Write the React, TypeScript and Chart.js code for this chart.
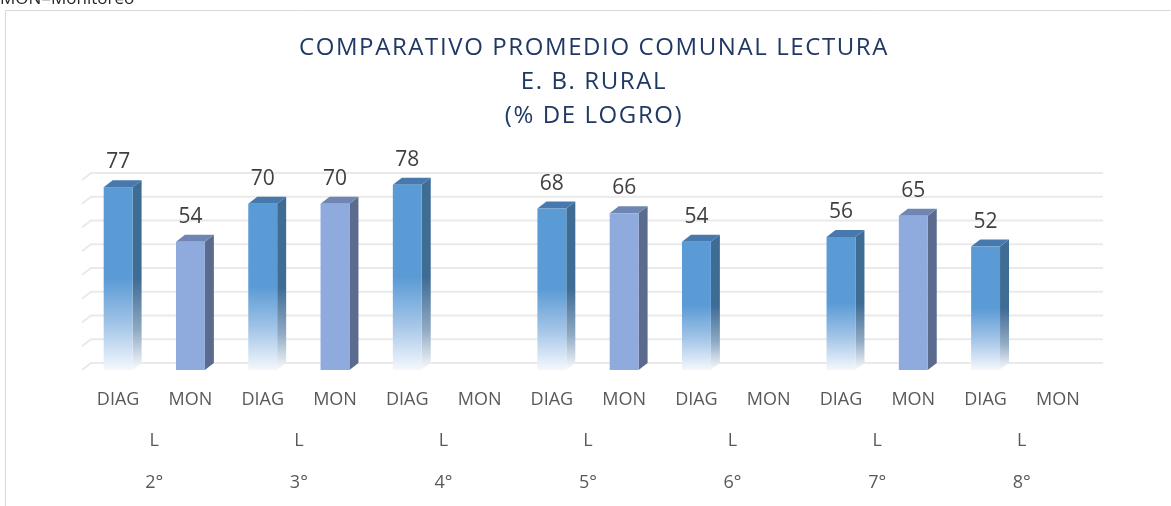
import React, { useEffect, useRef } from "react";
import { Chart, registerables } from "chart.js";

Chart.register(...registerables);

// ---- Data ----
const seriesLabels = ["DIAG", "MON"];
const levelLabels = ["L", "L", "L", "L", "L", "L", "L"];
const grades = ["2°", "3°", "4°", "5°", "6°", "7°", "8°"];
const diagValues: (number | null)[] = [77, 70, 78, 68, 54, 56, 52];
const monValues: (number | null)[] = [54, 70, null, 66, null, 65, null];
const yTicks = [0, 10, 20, 30, 40, 50, 60, 70, 80];
const titleLines = ["COMPARATIVO PROMEDIO COMUNAL LECTURA", "E. B. RURAL", "(% DE LOGRO)"];
const footNote = "MON=Monitoreo";

// Interleave into 14 categories
const categories: string[] = [];
const values: (number | null)[] = [];
grades.forEach((_, i) => {
  categories.push(seriesLabels[0]);
  values.push(diagValues[i]);
  categories.push(seriesLabels[1]);
  values.push(monValues[i]);
});

const FONT = "'Open Sans', 'Noto Sans', sans-serif";
const DX = 9;
const DY = 7;

const threeDPlugin = {
  id: "threeD",
  beforeDraw(chart: any) {
    const ctx: CanvasRenderingContext2D = chart.ctx;
    ctx.save();
    ctx.fillStyle = "#ffffff";
    ctx.fillRect(0, 0, chart.width, chart.height);
    // frame
    ctx.strokeStyle = "#D9D9D9";
    ctx.lineWidth = 1;
    ctx.beginPath();
    ctx.moveTo(5.5, chart.height + 2);
    ctx.lineTo(5.5, 10.5);
    ctx.lineTo(1170.5, 10.5);
    ctx.stroke();
    // foot note (cut off at top)
    ctx.fillStyle = "#262626";
    ctx.font = `17px ${FONT}`;
    ctx.textAlign = "left";
    ctx.textBaseline = "alphabetic";
    ctx.fillText(footNote, 0, 4);
    // title
    ctx.fillStyle = "#1F3864";
    ctx.font = `24px ${FONT}`;
    ctx.textAlign = "center";
    (ctx as any).letterSpacing = "1.6px";
    const baselines = [55, 88.5, 122.5];
    titleLines.forEach((t, i) => ctx.fillText(t, 594, baselines[i]));
    (ctx as any).letterSpacing = "0px";
    ctx.restore();
  },
  beforeDatasetsDraw(chart: any) {
    const ctx: CanvasRenderingContext2D = chart.ctx;
    const y = chart.scales.y;
    const { left, right } = chart.chartArea;
    ctx.save();
    ctx.strokeStyle = "#EAEAEA";
    ctx.lineWidth = 2;
    yTicks.forEach((v) => {
      const py = y.getPixelForValue(v);
      ctx.beginPath();
      ctx.moveTo(left, py);
      ctx.lineTo(left + DX, py - DY);
      ctx.lineTo(right + DX, py - DY);
      ctx.stroke();
    });
    ctx.restore();
  },
  afterDatasetsDraw(chart: any) {
    const ctx: CanvasRenderingContext2D = chart.ctx;
    const meta = chart.getDatasetMeta(0);
    ctx.save();
    meta.data.forEach((el: any, i: number) => {
      const v = values[i];
      if (v === null || v === undefined) return;
      const isDiag = i % 2 === 0;
      const x0 = el.x - el.width / 2;
      const x1 = el.x + el.width / 2;
      const yt = el.y;
      const yb = el.base;
      let front: any, side: any, top: string;
      if (isDiag) {
        front = ctx.createLinearGradient(0, yt, 0, yb);
        front.addColorStop(0, "#5B9BD5");
        front.addColorStop(0.5, "#5B9BD5");
        front.addColorStop(0.75, "#A2C4E7");
        front.addColorStop(1, "#F4F8FD");
        side = ctx.createLinearGradient(0, yt, 0, yb);
        side.addColorStop(0, "#3F6C95");
        side.addColorStop(0.5, "#3F6C95");
        side.addColorStop(0.78, "#8FA9C3");
        side.addColorStop(1, "#FAFBFD");
        top = "#4779AE";
      } else {
        front = "#8FAADC";
        side = "#5B6B8D";
        top = "#6F86B2";
      }
      // side face
      ctx.fillStyle = side;
      ctx.beginPath();
      ctx.moveTo(x1, yt);
      ctx.lineTo(x1 + DX, yt - DY);
      ctx.lineTo(x1 + DX, yb - DY);
      ctx.lineTo(x1, yb);
      ctx.closePath();
      ctx.fill();
      // top face
      ctx.fillStyle = top;
      ctx.beginPath();
      ctx.moveTo(x0, yt);
      ctx.lineTo(x0 + DX, yt - DY);
      ctx.lineTo(x1 + DX, yt - DY);
      ctx.lineTo(x1, yt);
      ctx.closePath();
      ctx.fill();
      // front face
      ctx.fillStyle = front;
      ctx.fillRect(x0, yt, x1 - x0, yb - yt);
      // value label
      ctx.fillStyle = "#404040";
      ctx.font = `21px ${FONT}`;
      ctx.textAlign = "center";
      ctx.textBaseline = "alphabetic";
      ctx.fillText(String(v), el.x, yt - DY - 12);
    });
    ctx.restore();
  },
  afterDraw(chart: any) {
    const ctx: CanvasRenderingContext2D = chart.ctx;
    const x = chart.scales.x;
    ctx.save();
    ctx.fillStyle = "#595959";
    ctx.font = `18px ${FONT}`;
    ctx.textAlign = "center";
    ctx.textBaseline = "alphabetic";
    categories.forEach((c, i) => {
      ctx.fillText(c, x.getPixelForValue(i), 405);
    });
    grades.forEach((g, k) => {
      const cx = (x.getPixelForValue(2 * k) + x.getPixelForValue(2 * k + 1)) / 2;
      ctx.fillText(levelLabels[k], cx, 446);
      ctx.fillText(g, cx, 488);
    });
    ctx.restore();
  },
};

export default function App() {
  const ref = useRef<HTMLCanvasElement | null>(null);
  useEffect(() => {
    if (!ref.current) return;
    const chart = new Chart(ref.current, {
      type: "bar",
      data: {
        labels: categories,
        datasets: [
          {
            data: values as any,
            backgroundColor: "rgba(0,0,0,0)",
            borderWidth: 0,
            barPercentage: 0.4,
            categoryPercentage: 1,
          },
        ],
      },
      options: {
        responsive: false,
        animation: false,
        devicePixelRatio: 1,
        layout: { padding: { left: 82, right: 77, top: 180, bottom: 136 } },
        plugins: {
          legend: { display: false },
          tooltip: { enabled: false },
          title: { display: false },
        },
        scales: {
          x: { display: false },
          y: { display: false, min: 0, max: 80, ticks: { stepSize: 10 } },
        },
      },
      plugins: [threeDPlugin],
    });
    return () => chart.destroy();
  }, []);
  return (
    <div style={{ position: "fixed", left: 0, top: 0, width: 1171, height: 506, background: "#fff" }}>
      <canvas ref={ref} width={1171} height={506} style={{ display: "block" }} />
    </div>
  );
}
